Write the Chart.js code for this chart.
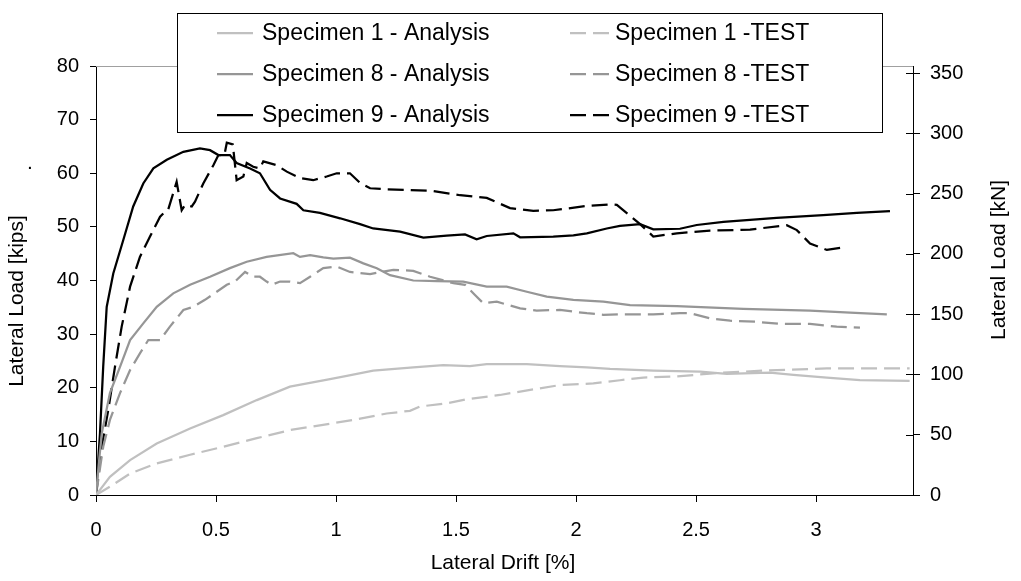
<!DOCTYPE html>
<html>
<head>
<meta charset="utf-8">
<title>Lateral Load vs Lateral Drift</title>
<script src="https://cdn.jsdelivr.net/npm/chart.js@4.4.1/dist/chart.umd.min.js"></script>
<style>
  html, body { margin: 0; padding: 0; background: #fff; }
  #wrap { width: 1021px; height: 581px; }
</style>
</head>
<body>
<div id="wrap"><canvas id="driftChart" width="1021" height="581"></canvas></div>
<script>
const KIPS_TO_KN = 4.448;
const FONT = "'Liberation Sans', Arial, sans-serif";

const seriesLabels = [
  "Specimen 1 - Analysis", "Specimen 8 - Analysis", "Specimen 9 - Analysis",
  "Specimen 1 -TEST", "Specimen 8 -TEST", "Specimen 9 -TEST"
];
const seriesColors = ["#c0c0c0", "#969696", "#000000", "#c0c0c0", "#969696", "#000000"];

// drift in %, load in kips
const s1AnalysisDrift = [0, 0.058, 0.142, 0.253, 0.392, 0.53, 0.67, 0.808, 0.975, 1.045, 1.155, 1.322, 1.447, 1.558, 1.628, 1.795, 1.933, 2.045, 2.142, 2.322, 2.517, 2.628, 2.808, 2.906, 3.045, 3.183, 3.39];
const s1AnalysisLoad  = [0, 3.4, 6.5, 9.6, 12.4, 14.9, 17.7, 20.2, 21.6, 22.2, 23.2, 23.8, 24.2, 24.05, 24.4, 24.4, 24.05, 23.8, 23.5, 23.2, 23.0, 22.6, 22.8, 22.4, 21.9, 21.4, 21.3];

const s1TestDrift = [0, 0.058, 0.142, 0.253, 0.392, 0.53, 0.67, 0.808, 0.975, 1.072, 1.211, 1.308, 1.35, 1.461, 1.545, 1.683, 1.822, 1.933, 2.072, 2.183, 2.28, 2.42, 2.6, 2.836, 3.045, 3.39];
const s1TestLoad  = [0, 1.55, 4.0, 5.9, 7.5, 9.0, 10.6, 12.1, 13.3, 14.0, 15.2, 15.7, 16.5, 17.1, 17.85, 18.65, 19.7, 20.5, 20.8, 21.4, 21.9, 22.1, 22.8, 23.3, 23.6, 23.6];

const s8AnalysisDrift = [0, 0.012, 0.024, 0.058, 0.1, 0.142, 0.197, 0.253, 0.322, 0.392, 0.475, 0.558, 0.628, 0.711, 0.822, 0.85, 0.892, 0.947, 0.989, 1.058, 1.114, 1.17, 1.225, 1.322, 1.42, 1.53, 1.628, 1.711, 1.795, 1.878, 1.989, 2.114, 2.225, 2.42, 2.697, 2.975, 3.142, 3.295];
const s8AnalysisLoad  = [0, 6, 11.5, 19.0, 23.9, 28.9, 32.0, 35.1, 37.6, 39.2, 40.7, 42.3, 43.5, 44.4, 45.1, 44.4, 44.75, 44.3, 44.1, 44.25, 43.2, 42.3, 41.0, 40.0, 39.9, 39.8, 38.85, 38.85, 37.9, 37.0, 36.4, 36.05, 35.4, 35.2, 34.7, 34.4, 34.0, 33.7];

const s8TestDrift = [0, 0.03, 0.058, 0.1, 0.142, 0.183, 0.218, 0.267, 0.308, 0.364, 0.405, 0.454, 0.503, 0.545, 0.579, 0.621, 0.655, 0.683, 0.711, 0.732, 0.767, 0.808, 0.85, 0.892, 0.947, 1.003, 1.058, 1.142, 1.239, 1.322, 1.392, 1.489, 1.5375, 1.579, 1.614, 1.67, 1.767, 1.836, 1.933, 2.045, 2.114, 2.183, 2.322, 2.433, 2.475, 2.558, 2.642, 2.753, 2.85, 2.975, 3.086, 3.183];
const s8TestLoad  = [0, 9.0, 14.0, 19.0, 23.3, 26.4, 28.9, 28.9, 31.4, 34.5, 35.1, 36.4, 37.9, 39.2, 39.8, 41.6, 40.7, 40.7, 39.8, 39.2, 39.8, 39.8, 39.5, 40.7, 42.3, 42.6, 41.6, 41.2, 42.0, 41.8, 40.7, 39.5, 39.2, 37.3, 35.75, 36.05, 34.8, 34.4, 34.5, 33.9, 33.6, 33.7, 33.7, 33.9, 33.9, 32.95, 32.5, 32.3, 31.9, 31.9, 31.4, 31.2];

const s9AnalysisDrift = [0, 0.0167, 0.03, 0.0446, 0.072, 0.114, 0.155, 0.197, 0.239, 0.295, 0.364, 0.433, 0.475, 0.51, 0.558, 0.586, 0.642, 0.683, 0.725, 0.767, 0.836, 0.864, 0.933, 1.017, 1.1, 1.155, 1.267, 1.364, 1.461, 1.5375, 1.586, 1.628, 1.739, 1.767, 1.905, 1.989, 2.045, 2.128, 2.183, 2.267, 2.322, 2.433, 2.503, 2.614, 2.836, 3.03, 3.17, 3.308];
const s9AnalysisLoad  = [0, 11.56, 23.9, 35.1, 41.3, 47.6, 53.8, 58.1, 60.9, 62.5, 64.0, 64.65, 64.3, 63.4, 63.4, 61.9, 60.9, 60.0, 56.9, 55.3, 54.3, 53.1, 52.6, 51.6, 50.5, 49.7, 49.1, 48.0, 48.35, 48.6, 47.7, 48.3, 48.8, 48.05, 48.2, 48.4, 48.8, 49.7, 50.2, 50.5, 49.55, 49.65, 50.35, 50.95, 51.7, 52.2, 52.6, 52.96];

const s9TestDrift = [0, 0.024, 0.051, 0.079, 0.107, 0.142, 0.183, 0.225, 0.267, 0.2875, 0.3, 0.336, 0.357, 0.371, 0.399, 0.4125, 0.447, 0.489, 0.51, 0.535, 0.545, 0.57, 0.586, 0.614, 0.628, 0.655, 0.683, 0.697, 0.753, 0.795, 0.85, 0.905, 0.961, 1.003, 1.058, 1.1, 1.142, 1.211, 1.295, 1.405, 1.517, 1.628, 1.725, 1.822, 1.905, 2.045, 2.142, 2.17, 2.267, 2.322, 2.42, 2.558, 2.725, 2.878, 2.92, 2.975, 3.045, 3.128];
const s9TestLoad  = [0, 9.0, 15.85, 23.9, 31.4, 38.85, 44.4, 48.2, 51.9, 52.8, 53.1, 58.4, 53.1, 54.1, 53.8, 54.7, 58.1, 61.5, 63.4, 63.4, 65.7, 65.4, 58.7, 59.4, 61.9, 61.2, 60.9, 62.2, 61.5, 60.3, 59.1, 58.7, 59.4, 60.0, 60.0, 58.2, 57.2, 57.0, 56.9, 56.7, 55.9, 55.4, 53.5, 53.0, 53.1, 53.9, 54.2, 54.1, 50.5, 48.2, 48.8, 49.3, 49.5, 50.3, 49.4, 46.9, 45.7, 46.3];

const driftMax = 3.404;
const kipsMax = 80;

const seriesData = [
  [s1AnalysisDrift, s1AnalysisLoad],
  [s8AnalysisDrift, s8AnalysisLoad],
  [s9AnalysisDrift, s9AnalysisLoad],
  [s1TestDrift, s1TestLoad],
  [s8TestDrift, s8TestLoad],
  [s9TestDrift, s9TestLoad]
];

const DASH = [16, 7];

const datasets = seriesData.map(([xs, ys], i) => ({
  label: seriesLabels[i],
  data: xs.map((x, k) => ({ x: x, y: ys[k] })),
  borderColor: seriesColors[i],
  borderWidth: 2.25,
  borderDash: i >= 3 ? DASH : [],
  pointRadius: 0,
  tension: 0,
  fill: false,
  yAxisID: "y"
}));

// plot frame, inner half of right ticks, legend box and axis titles
const extras = {
  id: "extras",
  beforeDatasetsDraw(chart) {
    const { ctx, chartArea: a } = chart;
    ctx.save();
    ctx.lineWidth = 1;
    ctx.strokeStyle = "#a0a0a0";
    ctx.beginPath();
    ctx.moveTo(a.left, a.top + 0.5);
    ctx.lineTo(a.right, a.top + 0.5);
    ctx.stroke();

    const yr = chart.scales.yKN;
    ctx.strokeStyle = "#000";
    yr.ticks.forEach(t => {
      const y = Math.round(yr.getPixelForValue(t.value)) + 0.5;
      ctx.beginPath();
      ctx.moveTo(a.right - 7, y);
      ctx.lineTo(a.right, y);
      ctx.stroke();
    });
    ctx.restore();
  },
  afterDraw(chart) {
    const ctx = chart.ctx;
    ctx.save();

    // legend
    ctx.fillStyle = "#fff";
    ctx.fillRect(177, 13, 705, 119);
    ctx.strokeStyle = "#000";
    ctx.lineWidth = 1;
    ctx.strokeRect(177.5, 13.5, 705, 119);

    const rowY = [33, 74, 115];
    const lineX = [[217, 253], [570, 610]];
    const textX = [262, 615];
    ctx.font = "23px " + FONT;
    ctx.textBaseline = "middle";
    ctx.textAlign = "left";
    chart.data.datasets.forEach((ds, i) => {
      const col = i < 3 ? 0 : 1;
      const y = rowY[i % 3];
      ctx.strokeStyle = ds.borderColor;
      ctx.lineWidth = ds.borderWidth;
      ctx.setLineDash(ds.borderDash);
      ctx.beginPath();
      ctx.moveTo(lineX[col][0], y);
      ctx.lineTo(lineX[col][1], y);
      ctx.stroke();
      ctx.setLineDash([]);
      ctx.fillStyle = "#000";
      ctx.fillText(ds.label, textX[col], y + 1);
    });

    // axis titles
    ctx.font = "21px " + FONT;
    ctx.fillStyle = "#000";
    ctx.textAlign = "center";
    ctx.textBaseline = "middle";
    ctx.fillText("Lateral Drift [%]", 503, 563);

    ctx.save();
    ctx.translate(17, 301);
    ctx.rotate(-Math.PI / 2);
    ctx.fillText("Lateral Load [kips]", 0, 0);
    ctx.restore();

    ctx.save();
    ctx.translate(999, 260);
    ctx.rotate(-Math.PI / 2);
    ctx.fillText("Lateral Load [kN]", 0, 0);
    ctx.restore();

    ctx.textBaseline = "alphabetic";
    ctx.fillText(".", 30, 169);

    ctx.restore();
  }
};

const tickFont = { family: FONT, size: 20 };

new Chart(document.getElementById("driftChart"), {
  type: "line",
  data: { datasets: datasets },
  options: {
    responsive: false,
    animation: false,
    devicePixelRatio: 1,
    layout: { padding: { top: 66, left: 0, right: 0, bottom: 0 } },
    plugins: {
      legend: { display: false },
      tooltip: { enabled: false }
    },
    scales: {
      x: {
        type: "linear",
        min: 0,
        max: driftMax,
        border: { display: true, color: "#000", width: 1 },
        grid: { drawOnChartArea: false, drawTicks: true, tickLength: 7, color: "#000" },
        ticks: {
          stepSize: 0.5,
          includeBounds: false,
          autoSkip: false,
          maxRotation: 0,
          padding: 16,
          color: "#000",
          font: tickFont,
          callback: v => String(Number(v.toFixed(2)))
        },
        afterFit(scale) { scale.height = 86; }
      },
      y: {
        type: "linear",
        position: "left",
        min: 0,
        max: kipsMax,
        border: { display: true, color: "#000", width: 1 },
        grid: { drawOnChartArea: false, drawTicks: true, tickLength: 6, color: "#000" },
        ticks: { stepSize: 10, padding: 11, color: "#000", font: tickFont },
        afterFit(scale) { scale.width = 96; }
      },
      yKN: {
        type: "linear",
        position: "right",
        min: 0,
        max: kipsMax * KIPS_TO_KN,
        border: { display: true, color: "#000", width: 1 },
        grid: { drawOnChartArea: false, drawTicks: true, tickLength: 7, color: "#000" },
        ticks: { stepSize: 50, includeBounds: false, padding: 10, color: "#000", font: tickFont },
        afterFit(scale) { scale.width = 108; }
      }
    }
  },
  plugins: [extras]
});
</script>
</body>
</html>
